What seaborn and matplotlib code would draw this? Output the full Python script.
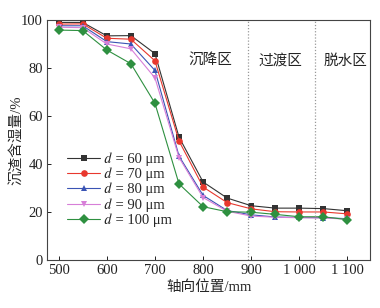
import numpy as np
import pandas as pd
import matplotlib
matplotlib.use("Agg")
import matplotlib.pyplot as plt
import seaborn as sns

positions = [500, 550, 600, 650, 700, 750, 800, 850, 900, 950, 1000, 1050, 1100]
d60 = [99.0, 99.0, 93.4, 93.5, 86.0, 51.2, 32.5, 25.8, 22.6, 21.6, 21.6, 21.4, 20.5]
d70 = [98.3, 98.4, 92.4, 92.0, 83.0, 49.6, 30.4, 23.9, 21.3, 20.1, 20.0, 20.0, 19.2]
d80 = [97.6, 97.6, 91.0, 90.0, 79.0, 43.3, 26.9, 20.6, 18.8, 17.9, 17.7, 17.6, 17.2]
d90 = [97.0, 96.8, 90.0, 88.0, 75.9, 42.7, 26.0, 20.3, 18.3, 17.8, 17.6, 17.5, 17.0]
d100 = [95.8, 95.6, 87.5, 81.8, 65.3, 31.7, 22.2, 20.1, 19.9, 19.0, 18.0, 18.0, 16.8]
series_labels = ["\U0001D451 = 60 μm", "\U0001D451 = 70 μm", "\U0001D451 = 80 μm",
                 "\U0001D451 = 90 μm", "\U0001D451 = 100 μm"]
zone_labels = ["沉降区", "过渡区", "脱水区"]
zone_bounds = [894, 1033]
x_ticks = [500, 600, 700, 800, 900, 1000, 1100]
x_tick_labels = ["500", "600", "700", "800", "900", "1 000", "1 100"]
y_ticks = [0, 20, 40, 60, 80, 100]

rows = []
for lab, vals in zip(series_labels, [d60, d70, d80, d90, d100]):
    for p, v in zip(positions, vals):
        rows.append({"pos": p, "val": v, "d": lab})
df = pd.DataFrame(rows)

sns.set_style("ticks")
plt.rcParams['font.family'] = ['Liberation Serif', 'Noto Sans CJK SC']

fig = plt.figure(figsize=(3.8, 3.08), dpi=100)
ax = fig.add_axes([0.124, 0.156, 0.850, 0.779])

palette = ["#333333", "#e8382e", "#3a54b4", "#d77fd8", "#2e9040"]
markers = ["s", "o", "^", "v", "D"]
sns.lineplot(data=df, x="pos", y="val", hue="d", style="d", palette=palette,
             markers=markers, dashes=False, linewidth=0.8, markersize=4.8,
             markeredgewidth=0, ax=ax)

for b in zone_bounds:
    ax.axvline(b, color="#999999", linestyle=(0, (1, 1.5)), linewidth=0.9)

zone_x = [815, 961, 1096]
for zx, zl in zip(zone_x, zone_labels):
    ax.text(zx, 83, zl, ha="center", va="center", fontsize=10.5, color="#222222")

ax.set_xlim(476, 1147)
ax.set_ylim(0, 100)
ax.set_xticks(x_ticks)
ax.set_xticklabels(x_tick_labels)
ax.set_yticks(y_ticks)
ax.tick_params(direction="in", length=3, width=0.7, labelsize=10.5, colors="#222222", pad=3)
for s in ax.spines.values():
    s.set_linewidth(0.8)
    s.set_color("#444444")
ax.set_xlabel("轴向位置/mm", fontsize=10.5, labelpad=2)
ax.set_ylabel("沉渣含湿量/%", fontsize=10.5, labelpad=-2)

leg = ax.legend(loc="upper left", bbox_to_anchor=(0.045, 0.474), frameon=False,
                prop={"family": ["Liberation Serif", "STIXGeneral"], "size": 10.5},
                handlelength=2.2, handletextpad=0.3,
                labelspacing=0.13, borderaxespad=0)

fig.savefig("out.png", dpi=100)
